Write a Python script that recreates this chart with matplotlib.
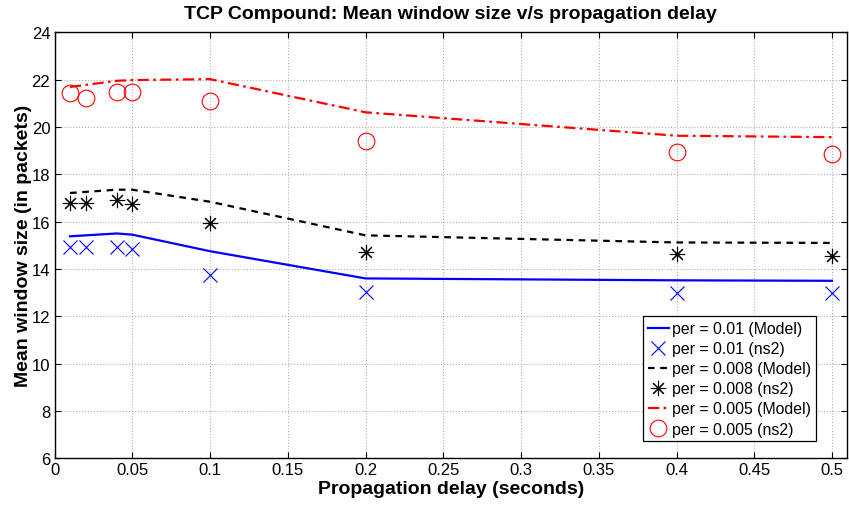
import matplotlib

matplotlib.use("Agg")
import matplotlib.pyplot as plt

plt.rcParams["font.family"] = ["Liberation Sans", "DejaVu Sans"]

# model curves
x_model = [0.01, 0.04, 0.05, 0.1, 0.2, 0.4, 0.5]
model_001 = [15.38, 15.50, 15.45, 14.75, 13.60, 13.52, 13.50]
model_0008 = [17.21, 17.35, 17.35, 16.84, 15.42, 15.12, 15.10]
model_0005 = [21.69, 21.95, 21.98, 22.02, 20.62, 19.63, 19.57]

# ns2 simulation points
x_ns2 = [0.01, 0.02, 0.04, 0.05, 0.1, 0.2, 0.4, 0.5]
ns2_001 = [14.91, 14.91, 14.93, 14.84, 13.76, 13.01, 12.98, 12.98]
ns2_0008 = [16.79, 16.79, 16.91, 16.74, 15.94, 14.70, 14.63, 14.56]
ns2_0005 = [21.42, 21.21, 21.46, 21.49, 21.10, 19.42, 18.95, 18.86]

xticks = [0, 0.05, 0.1, 0.15, 0.2, 0.25, 0.3, 0.35, 0.4, 0.45, 0.5]
xticklabels = ["0", "0.05", "0.1", "0.15", "0.2", "0.25", "0.3", "0.35", "0.4", "0.45", "0.5"]
yticks = [6, 8, 10, 12, 14, 16, 18, 20, 22, 24]

fig = plt.figure(figsize=(8.49, 5.06), dpi=100)
ax = fig.add_axes([0.0642, 0.0923, 0.9334, 0.8419])

ax.plot(x_model, model_001, "-", color="#0000ff", lw=1.6, label="per = 0.01 (Model)")
ax.plot(x_ns2, ns2_001, "x", color="#0000ff", ms=10, mew=0.8, ls="none", label="per = 0.01 (ns2)")
ax.plot(x_model, model_0008, "--", color="black", lw=1.6, dashes=(3, 2.5), label="per = 0.008 (Model)")
ax.plot(x_ns2, ns2_0008, marker=(8, 2, 0), color="black", ms=11, mew=0.8, ls="none",
        label="per = 0.008 (ns2)")
ax.plot(x_model, model_0005, "-.", color="#ff0000", lw=1.6, dashes=(5, 2, 1.2, 2),
        label="per = 0.005 (Model)")
ax.plot(x_ns2, ns2_0005, "o", mfc="none", mec="#ff0000", ms=12, mew=0.8, ls="none",
        label="per = 0.005 (ns2)")

ax.set_xlim(0, 0.5096)
ax.set_ylim(6, 24)
ax.set_xticks(xticks)
ax.set_xticklabels(xticklabels)
ax.set_yticks(yticks)
ax.tick_params(direction="in", top=True, right=True, labelsize=12, length=4, pad=3)
ax.grid(True, ls=":", color="#b0b0b0", lw=0.8)
for s in ax.spines.values():
    s.set_linewidth(1.0)

ax.set_title("TCP Compound: Mean window size v/s propagation delay", fontsize=14,
             fontweight="bold", pad=10)
ax.set_xlabel("Propagation delay (seconds)", fontsize=14, fontweight="bold", labelpad=2)
ax.set_ylabel("Mean window size (in packets)", fontsize=14, fontweight="bold", labelpad=0)

leg = ax.legend(loc="lower right", bbox_to_anchor=(0.9607, 0.0399), fontsize=11.4,
                fancybox=False, edgecolor="black", framealpha=1, handlelength=1.3,
                handletextpad=0.2, borderpad=0.3, labelspacing=0.32, borderaxespad=0)
leg.get_frame().set_linewidth(0.9)

fig.savefig("out.png", dpi=100)
